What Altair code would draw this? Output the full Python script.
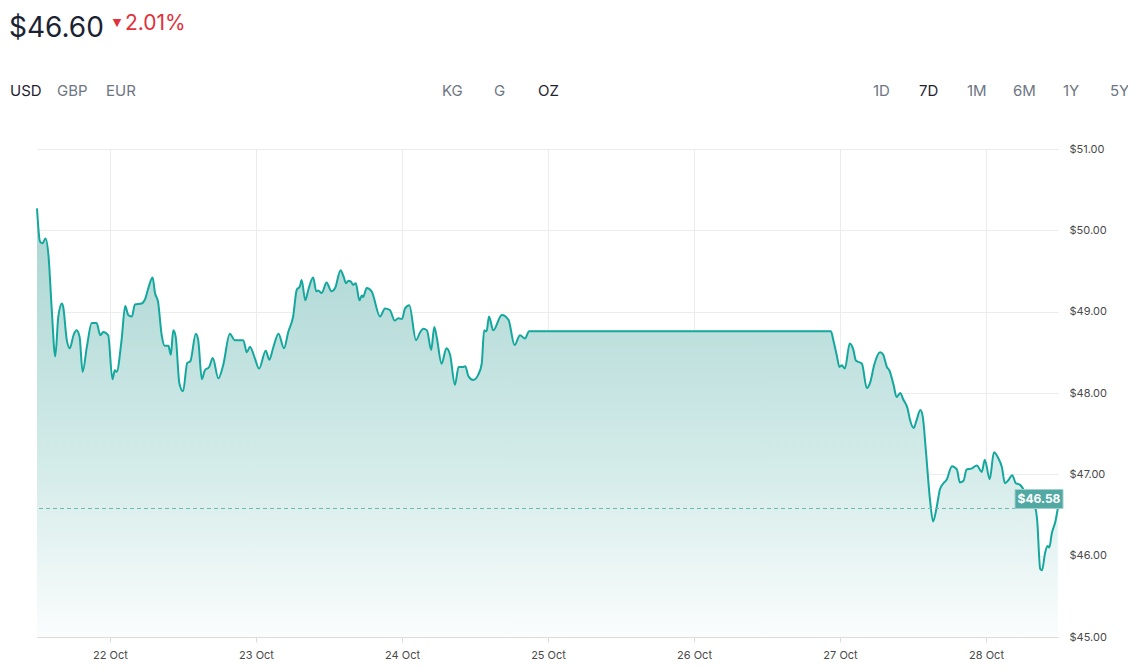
import altair as alt
import pandas as pd

# ---------------- data (hours since 21 Oct 00:00, price in USD/oz) ----------------
hours = [12.0, 12.5, 12.9, 13.4, 13.9, 14.4, 15.0, 15.5, 16.1, 16.3, 16.9, 17.4, 18.0, 18.5, 19.0,
         19.5, 20.2, 21.0, 21.8, 22.4, 22.9, 23.7, 24.4, 24.8, 25.1, 25.9, 26.5, 27.0, 27.6, 28.1,
         29.2, 29.8, 30.3, 31.0, 31.4, 31.9, 32.5, 33.0, 33.6, 34.0, 34.4, 34.8, 35.4, 36.0, 36.7,
         37.2, 38.1, 38.5, 39.1, 39.6, 40.3, 40.9, 41.8, 42.6, 43.7, 44.5, 45.9, 46.5, 47.0, 47.8,
         48.5, 49.6, 50.2, 50.8, 51.7, 52.6, 53.3, 54.1, 54.7, 55.2, 55.5, 56.1, 56.6, 57.4, 57.9,
         58.2, 58.8, 59.6, 60.4, 61.0, 61.9, 62.4, 62.8, 63.2, 63.6, 64.0, 64.4, 65.0, 65.4, 65.6,
         66.2, 67.0, 68.4, 69.2, 70.0, 70.8, 71.4, 72.0, 72.5, 73.2, 74.3, 75.0, 75.5, 76.1, 76.8,
         77.3, 77.7, 78.5, 79.3, 79.9, 80.7, 81.3, 82.0, 82.4, 82.9, 83.7, 84.5, 85.1, 85.5, 85.9,
         86.3, 87.0, 88.4, 89.5, 90.5, 91.4, 92.2, 92.9, 142.5, 142.9, 143.5, 143.9, 144.3, 144.8,
         145.6, 146.2, 146.6, 147.6, 148.4, 149.0, 149.6, 150.6, 151.1, 151.7, 152.1, 152.8, 153.3,
         153.9, 154.4, 155.1, 155.5, 156.1, 156.6, 157.2, 157.6, 158.1, 158.8, 159.3, 159.8, 160.2,
         160.4, 161.0, 161.5, 162.4, 163.2, 163.7, 164.3, 164.8, 165.6, 166.5, 167.3, 167.8, 168.6,
         169.3, 170.0, 170.6, 171.1, 171.7, 172.3, 172.9, 173.6, 174.6, 175.4, 176.1, 176.4, 176.9,
         177.2, 177.7, 178.1, 178.4, 178.8, 179.4, 179.8]
prices = [50.27, 49.86, 49.84, 49.90, 49.68, 49.06, 48.45, 48.94, 49.10, 49.06, 48.65, 48.55, 48.71, 48.77, 48.69,
          48.26, 48.57, 48.86, 48.86, 48.71, 48.75, 48.71, 48.17, 48.28, 48.26, 48.65, 49.07, 48.96, 48.94, 49.09,
          49.10, 49.16, 49.29, 49.42, 49.23, 49.12, 48.71, 48.58, 48.58, 48.47, 48.77, 48.69, 48.12, 48.02, 48.37,
          48.39, 48.73, 48.65, 48.17, 48.28, 48.32, 48.43, 48.18, 48.34, 48.73, 48.65, 48.65, 48.50, 48.57, 48.43,
          48.30, 48.52, 48.41, 48.55, 48.73, 48.55, 48.75, 48.94, 49.27, 49.31, 49.39, 49.14, 49.27, 49.42, 49.25,
          49.26, 49.23, 49.36, 49.25, 49.29, 49.51, 49.43, 49.35, 49.38, 49.37, 49.33, 49.35, 49.14, 49.20, 49.18,
          49.29, 49.25, 48.94, 49.04, 49.02, 48.89, 48.92, 48.91, 49.04, 49.08, 48.65, 48.75, 48.79, 48.77, 48.53,
          48.81, 48.69, 48.36, 48.55, 48.47, 48.10, 48.32, 48.32, 48.33, 48.21, 48.16, 48.22, 48.36, 48.77, 48.76,
          48.94, 48.77, 48.96, 48.90, 48.59, 48.71, 48.67, 48.76, 48.76, 48.65, 48.45, 48.32, 48.34, 48.30,
          48.61, 48.53, 48.40, 48.36, 48.06, 48.14, 48.34, 48.50, 48.47, 48.32, 48.28, 48.10, 47.95,
          48.00, 47.92, 47.81, 47.67, 47.57, 47.67, 47.79, 47.71, 47.30, 46.68, 46.42, 46.56, 46.73,
          46.81, 46.89, 46.93, 47.10, 47.06, 46.90, 46.92, 47.06, 47.07, 47.11, 47.03, 47.18, 46.94,
          47.27, 47.20, 47.09, 46.89, 46.93, 46.99, 46.89, 46.87, 46.75, 46.62, 46.58, 46.44, 45.84,
          45.82, 46.03, 46.12, 46.10, 46.27, 46.42, 46.58]

day_ticks = [24, 48, 72, 96, 120, 144, 168]
day_labels = ["22 Oct", "23 Oct", "24 Oct", "25 Oct", "26 Oct", "27 Oct", "28 Oct"]
price_ticks = [45, 46, 47, 48, 49, 50, 51]

headline_price = "$46.60"
headline_change = "2.01%"
currencies = ["USD", "GBP", "EUR"]
units = ["KG", "G", "OZ"]
ranges = ["1D", "7D", "1M", "6M", "1Y", "5Y"]
selected = {"USD", "OZ", "7D"}

# ---------------- layout (not data) ----------------
W, H = 1021, 488
PAD = {"left": 29, "top": 141, "right": 70, "bottom": 25}
OX, OY = 37, 149  # page coords of plot origin
btn_x = {"USD": 10, "GBP": 57, "EUR": 106, "KG": 442, "G": 494, "OZ": 538,
         "1D": 873, "7D": 919, "1M": 967, "6M": 1013, "1Y": 1063, "5Y": 1110}
FONT = "Inter"
TEAL = "#14a79e"

df = pd.DataFrame({"hour": hours, "price": prices})
last = df.tail(1)

xscale = alt.Scale(domain=[12, 179.83], nice=False, zero=False)
yscale = alt.Scale(domain=[45, 51], nice=False, zero=False)

label_expr = "[" + ",".join("'%s'" % s for s in day_labels) + "][round(datum.value/24) - 1]"

xenc = alt.X("hour:Q", scale=xscale,
             axis=alt.Axis(values=day_ticks, labelExpr=label_expr, title=None,
                           grid=True, gridColor="#ececec", domainColor="#dcdcdc",
                           tickColor="#dcdcdc", tickSize=5, labelPadding=7,
                           labelFont=FONT, labelFontSize=11, labelColor="#4a4a4a"))
yenc = alt.Y("price:Q", scale=yscale,
             axis=alt.Axis(orient="right", values=price_ticks, format="$.2f", title=None,
                           grid=True, gridColor="#ececec", domain=False, ticks=False,
                           labelPadding=11, labelFont=FONT, labelFontSize=11,
                           labelColor="#4a4a4a"))

gradient = alt.Gradient(
    gradient="linear", x1=1, x2=1, y1=0, y2=1,
    stops=[alt.GradientStop(color="#a9d5d2", offset=0),
           alt.GradientStop(color="#d3ebe9", offset=0.6),
           alt.GradientStop(color="#fbfdfd", offset=1)])

base = alt.Chart(df)
area = base.mark_area(color=gradient, interpolate="monotone").encode(
    x=xenc, y=yenc, y2=alt.datum(45))
line = base.mark_line(color=TEAL, strokeWidth=2, interpolate="monotone").encode(
    x="hour:Q", y="price:Q")

rule = alt.Chart(last).mark_rule(color="#6dbab5", strokeDash=[4, 3], strokeWidth=1).encode(
    y="price:Q")
box = alt.Chart(last).mark_rect(color="#52a9a4", stroke="#9fd0cc", strokeWidth=1,
                                yOffset=-19, y2Offset=0).encode(
    x=alt.value(1015 - OX), x2=alt.value(1063 - OX), y="price:Q", y2="price:Q")
box_text = alt.Chart(last).mark_text(color="white", font=FONT, fontSize=12, fontWeight="bold",
                                     dy=-9.5, align="center", baseline="middle").encode(
    x=alt.value(1039 - OX), y="price:Q", text=alt.Text("price:Q", format="$.2f"))


def txt(s, x, y, size, color, weight="normal", font=FONT, align="left", baseline="middle"):
    return alt.Chart(pd.DataFrame({"t": [s]})).mark_text(
        font=font, fontSize=size, color=color, fontWeight=weight,
        align=align, baseline=baseline).encode(
        text="t:N", x=alt.value(x - OX), y=alt.value(y - OY))


texts = [
    txt(headline_price, 9, 37, 28, "#1b2333", baseline="alphabetic"),
    txt("\u25BC", 117, 23, 11, "#e0323c", font="DejaVu Sans", align="center"),
    txt(headline_change, 125, 30, 21, "#e0323c", baseline="alphabetic"),
]
for group in (currencies, units, ranges):
    for s in group:
        texts.append(txt(s, btn_x[s], 91, 15, "#1f2433" if s in selected else "#6d7682"))

chart = alt.layer(area, line, rule, box, box_text, *texts).properties(
    width=W, height=H, autosize="none", padding=PAD
).configure_view(stroke=None)

chart.save("out.html", embed_options={"renderer": "svg", "actions": False})
